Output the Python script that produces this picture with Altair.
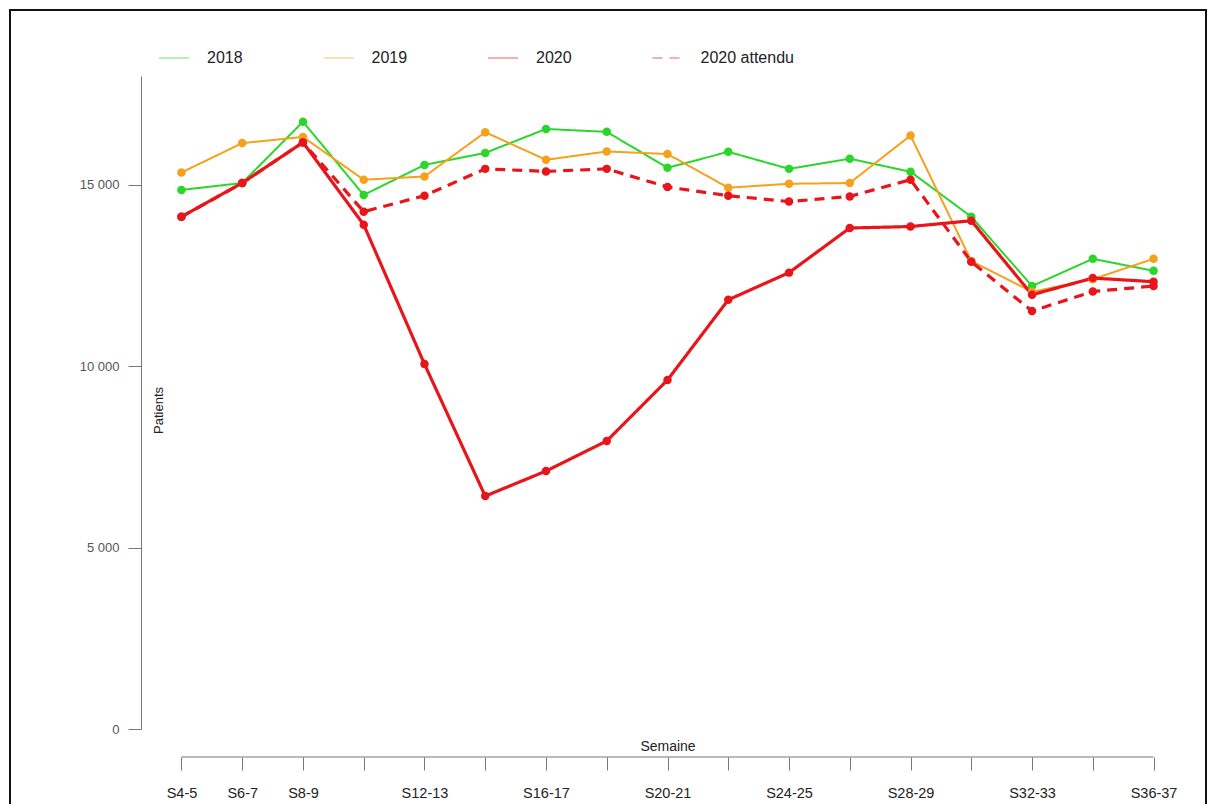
import altair as alt
import pandas as pd

weeks = ["S4-5", "S6-7", "S8-9", "S10-11", "S12-13", "S14-15", "S16-17", "S18-19",
         "S20-21", "S22-23", "S24-25", "S26-27", "S28-29", "S30-31", "S32-33",
         "S34-35", "S36-37"]
shown_labels = ["S4-5", "S6-7", "S8-9", "S12-13", "S16-17", "S20-21", "S24-25",
                "S28-29", "S32-33", "S36-37"]

series_names = ["2018", "2019", "2020", "2020 attendu"]
series_colors = ["#2BD62B", "#F5A11C", "#E8161B", "#E8161B"]
thin_series = ["2018", "2019"]
thick_series = ["2020", "2020 attendu"]

y2018 = [14860, 15050, 16740, 14720, 15550, 15880, 16540, 16460, 15470, 15910,
         15440, 15720, 15360, 14120, 12210, 12960, 12630]
y2019 = [15340, 16150, 16320, 15140, 15230, 16450, 15690, 15920, 15850, 14920,
         15030, 15050, 16360, 12900, 12050, 12400, 12960]
y2020 = [14120, 15050, 16170, 13900, 10060, 6420, 7110, 7940, 9620, 11830,
         12580, 13810, 13850, 14010, 11970, 12430, 12330]
y2020_attendu = [14120, 15050, 16170, 14260, 14700, 15440, 15370, 15440, 14940,
                 14700, 14540, 14680, 15140, 12880, 11520, 12060, 12210]

rows = []
for name, vals in zip(series_names, [y2018, y2019, y2020, y2020_attendu]):
    for w, v in zip(weeks, vals):
        rows.append({"semaine": w, "patients": v, "serie": name})
df = pd.DataFrame(rows)

W, H = 1045, 653
FONT = "Liberation Sans"

x_scale = alt.Scale(type="point", domain=weeks, padding=0.6)
y_scale = alt.Scale(domain=[0, 18000], nice=False, zero=True)
color_scale = alt.Scale(domain=series_names, range=series_colors)
dash_scale = alt.Scale(domain=series_names, range=[[1, 0], [1, 0], [1, 0], [10, 7]])

label_list = "[" + ",".join("'" + s + "'" for s in shown_labels) + "]"

x_axis = alt.Axis(
    title="Semaine", orient="bottom", offset=28, domain=False, grid=False,
    tickSize=13, tickColor="#777", tickWidth=1, labelAngle=0, labelPadding=16,
    labelFont=FONT, labelFontSize=14.5, labelColor="#222",
    labelExpr="indexof(" + label_list + ", datum.value) >= 0 ? datum.label : ''",
    titleFont=FONT, titleFontSize=14, titleFontWeight="normal", titleColor="#222",
    titleY=-11, titleBaseline="middle", titlePadding=0,
)
y_axis = alt.Axis(
    title="Patients", values=[0, 5000, 10000, 15000], offset=4, grid=False,
    domainColor="#777", tickColor="#777", tickSize=13, labelPadding=9,
    labelFont=FONT, labelFontSize=13, labelColor="#555",
    labelExpr="replace(format(datum.value, ','), ',', ' ')",
    titleFont=FONT, titleFontSize=13, titleFontWeight="normal", titleColor="#222",
    titleX=17, titleY=334, titleAngle=-90, titleBaseline="middle", titleAlign="center",
)

legend = alt.Legend(
    title=None, orient="none", direction="horizontal", legendX=13, legendY=-34,
    symbolType="stroke", symbolSize=900, symbolStrokeWidth=1.5, symbolOpacity=0.45,
    labelFont=FONT, labelFontSize=16, labelColor="#222", labelOffset=17,
    columnPadding=77.5,
)


def line_layer(series, width):
    return alt.Chart(df).transform_filter(
        alt.FieldOneOfPredicate(field="serie", oneOf=series)
    ).mark_line(strokeWidth=width).encode(
        x=alt.X("semaine:N", scale=x_scale, axis=x_axis, sort=weeks),
        y=alt.Y("patients:Q", scale=y_scale, axis=y_axis),
        color=alt.Color("serie:N", scale=color_scale, legend=legend),
        strokeDash=alt.StrokeDash("serie:N", scale=dash_scale, legend=legend),
        detail="serie:N",
    )


thin_lines = line_layer(thin_series, 2)
thick_lines = line_layer(thick_series, 3.2)

points = alt.Chart(df).mark_circle(size=72, opacity=1).encode(
    x=alt.X("semaine:N", scale=x_scale, axis=x_axis, sort=weeks),
    y=alt.Y("patients:Q", scale=y_scale, axis=y_axis),
    color=alt.Color("serie:N", scale=color_scale, legend=legend),
)

axis_line_df = pd.DataFrame({"start": [weeks[0]], "end": [weeks[-1]]})
x_line = alt.Chart(axis_line_df).mark_rule(color="#777", strokeWidth=1).encode(
    x=alt.X("start:N", scale=x_scale, axis=x_axis),
    x2="end:N",
    y=alt.value(H + 28),
)

frame = alt.Chart(pd.DataFrame({"f": [0]})).mark_rect(
    filled=False, stroke="#111", strokeWidth=2
).encode(
    x=alt.value(-135), x2=alt.value(1061), y=alt.value(-66), y2=alt.value(H + 120),
)

chart = alt.layer(thin_lines, thick_lines, points, x_line, frame).properties(
    width=W, height=H,
    autosize=alt.AutoSizeParams(type="none"),
    padding={"left": 137, "top": 68, "right": 19, "bottom": 75},
    background="white",
).configure_view(stroke=None)

chart.save("out.html", embed_options={"renderer": "svg", "actions": False})
